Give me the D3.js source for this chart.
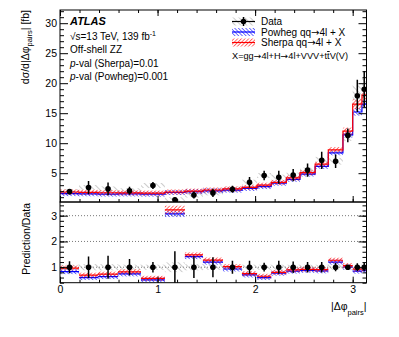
<!DOCTYPE html>
<html>
<head>
<meta charset="utf-8">
<script src="https://cdn.jsdelivr.net/npm/d3@7"></script>
<style>
  body { margin: 0; background: #fff; }
  text { font-family: "Liberation Sans", Arial, sans-serif; fill: #000; }
  .arr { font-family: "DejaVu Sans", sans-serif; }
</style>
</head>
<body>
<svg id="chart" width="399" height="337"></svg>
<script>
// bin edges in |dphi_pairs|
const binEdges = [0, 0.195, 0.39, 0.595, 0.83, 1.075, 1.28, 1.465, 1.67, 1.865, 2.02,
                  2.165, 2.32, 2.46, 2.615, 2.75, 2.9, 3.0, 3.095, Math.PI];
// measured cross-section [fb]
const dataValues = [1.93, 2.62, 2.38, 2.08, 2.95, 0.58, 1.36, 1.72, 2.33, 3.5,
                    4.62, 4.33, 4.68, 5.52, 7.15, 7.0, 11.3, 17.9, 19.0];
// relative total uncertainty (error bars)
const dataErr = [0.23, 0.42, 0.45, 0.32, 0.2, 0.62, 0.42, 0.39, 0.25, 0.25,
                 0.17, 0.25, 0.22, 0.2, 0.2, 0.16, 0.1, 0.15, 0.16];
// relative systematic uncertainty (grey hatched band)
const dataSyst = [0.1, 0.12, 0.12, 0.1, 0.1, 0.19, 0.12, 0.1, 0.1, 0.1,
                  0.08, 0.1, 0.08, 0.08, 0.08, 0.08, 0.08, 0.1, 0.1];
const sherpaValues = [1.87, 1.81, 1.74, 1.71, 1.68, 1.87, 2.01, 2.20, 2.38, 2.63,
                      3.0, 3.46, 4.21, 5.08, 6.5, 8.9, 12.0, 16.5, 18.0];
const powhegValues = [1.60, 1.57, 1.52, 1.54, 1.50, 1.78, 1.92, 2.06, 2.17, 2.45,
                      2.77, 3.33, 3.98, 4.86, 6.15, 8.4, 11.4, 15.2, 16.5];
const sherpaUnc = 0.05;
const powhegUnc = 0.04;

const xMajor = [0, 1, 2, 3];
const yTopMajor = [5, 10, 15, 20, 25, 30];
const yRatioMajor = [1, 2, 3];

const svg = d3.select('#chart');
const left = 60, right = 366.5;
const topY0 = 10, topY1 = 202, ratY1 = 282.7;
const minBand = 2.5; // smallest half-height of a hatched band, px

const x = d3.scaleLinear().domain([0, Math.PI]).range([left, right]);
const yTop = d3.scaleLinear().domain([0.2, 32.2]).range([topY1, topY0]);
const yRat = d3.scaleLinear().domain([0.4, 3.53]).range([ratY1, topY1]);

// hatch patterns
const defs = svg.append('defs');
function hatch(id, color, angle, gap, width) {
  const p = defs.append('pattern').attr('id', id)
    .attr('patternUnits', 'userSpaceOnUse')
    .attr('width', gap).attr('height', gap)
    .attr('patternTransform', `rotate(${angle})`);
  p.append('line').attr('x1', 0).attr('y1', 0).attr('x2', 0).attr('y2', gap)
    .attr('stroke', color).attr('stroke-width', width);
}
hatch('hGrey', '#999', -45, 4, 1);
hatch('hRed', '#ff0000', 45, 2.6, 1.1);
hatch('hBlue', '#0000ff', -45, 2.6, 1.1);

const bins = dataValues.map((d, i) => ({
  x0: binEdges[i], x1: binEdges[i + 1], xc: (binEdges[i] + binEdges[i + 1]) / 2,
  data: d, err: dataErr[i], syst: dataSyst[i],
  sherpa: sherpaValues[i], powheg: powhegValues[i]
}));

// band rectangle between scale(v*(1-u)) and scale(v*(1+u)), at least minBand each side
function band(sel, scale, val, unc) {
  sel.attr('y', d => Math.min(scale(val(d) * (1 + unc(d))), scale(val(d)) - minBand))
    .attr('height', d => {
      const h = scale(val(d) * (1 - unc(d))) - scale(val(d) * (1 + unc(d)));
      return Math.max(h, 2 * minBand);
    });
}

// clip paths
defs.append('clipPath').attr('id', 'clipTop').append('rect')
  .attr('x', left).attr('y', topY0).attr('width', right - left).attr('height', topY1 - topY0);
defs.append('clipPath').attr('id', 'clipRat').append('rect')
  .attr('x', left).attr('y', topY1).attr('width', right - left).attr('height', ratY1 - topY1);

// ---------- top panel ----------
const gTop = svg.append('g').attr('clip-path', 'url(#clipTop)');

gTop.selectAll('rect.syst').data(bins).join('rect')
  .attr('x', d => x(d.x0)).attr('width', d => x(d.x1) - x(d.x0))
  .call(band, yTop, d => d.data, d => d.syst)
  .attr('fill', 'url(#hGrey)');

function drawPred(g, key, unc, pat, color) {
  g.selectAll('rect.' + key).data(bins).join('rect').attr('class', key)
    .attr('x', d => x(d.x0)).attr('width', d => x(d.x1) - x(d.x0))
    .call(band, yTop, d => d[key], () => unc)
    .attr('fill', `url(#${pat})`);
  const pts = [];
  bins.forEach(d => { pts.push([d.x0, d[key]]); pts.push([d.x1, d[key]]); });
  g.append('path').datum(pts)
    .attr('d', d3.line().x(p => x(p[0])).y(p => yTop(p[1])))
    .attr('fill', 'none').attr('stroke', color).attr('stroke-width', 1.2);
}
drawPred(gTop, 'powheg', powhegUnc, 'hBlue', '#0000ff');
drawPred(gTop, 'sherpa', sherpaUnc, 'hRed', '#ff0000');

gTop.selectAll('line.err').data(bins).join('line')
  .attr('x1', d => x(d.xc)).attr('x2', d => x(d.xc))
  .attr('y1', d => yTop(d.data * (1 + d.err))).attr('y2', d => yTop(d.data * (1 - d.err)))
  .attr('stroke', '#000').attr('stroke-width', 1.5);
gTop.selectAll('circle').data(bins).join('circle')
  .attr('cx', d => x(d.xc)).attr('cy', d => yTop(d.data)).attr('r', 2.8).attr('fill', '#000');

// ---------- ratio panel ----------
const gRat = svg.append('g').attr('clip-path', 'url(#clipRat)');

gRat.selectAll('line.grid').data(yRatioMajor).join('line')
  .attr('x1', left).attr('x2', right)
  .attr('y1', d => yRat(d)).attr('y2', d => yRat(d))
  .attr('stroke', '#555').attr('stroke-width', 0.8).attr('stroke-dasharray', '1,2');

gRat.selectAll('rect.syst').data(bins).join('rect')
  .attr('x', d => x(d.x0)).attr('width', d => x(d.x1) - x(d.x0))
  .call(band, yRat, () => 1, d => d.syst)
  .attr('fill', 'url(#hGrey)');

function drawRatio(g, key, unc, pat, color) {
  g.selectAll('rect.' + key).data(bins).join('rect').attr('class', key)
    .attr('x', d => x(d.x0)).attr('width', d => x(d.x1) - x(d.x0))
    .call(band, yRat, d => d[key] / d.data, () => unc)
    .attr('fill', `url(#${pat})`);
  g.selectAll('line.' + key).data(bins).join('line').attr('class', key)
    .attr('x1', d => x(d.x0)).attr('x2', d => x(d.x1))
    .attr('y1', d => yRat(d[key] / d.data)).attr('y2', d => yRat(d[key] / d.data))
    .attr('stroke', color).attr('stroke-width', 1.2);
}
drawRatio(gRat, 'powheg', powhegUnc, 'hBlue', '#0000ff');
drawRatio(gRat, 'sherpa', sherpaUnc, 'hRed', '#ff0000');

gRat.selectAll('line.err').data(bins).join('line')
  .attr('x1', d => x(d.xc)).attr('x2', d => x(d.xc))
  .attr('y1', d => yRat(1 + d.err)).attr('y2', d => yRat(1 - d.err))
  .attr('stroke', '#000').attr('stroke-width', 1.5);
gRat.selectAll('circle').data(bins).join('circle')
  .attr('cx', d => x(d.xc)).attr('cy', yRat(1)).attr('r', 2.8).attr('fill', '#000');

// ---------- axes ----------
const xMinor = d3.range(0, 3.15, 0.2);
const topMinor = d3.range(1, 33, 1).filter(v => v % 5 !== 0);
const ratMinor = d3.range(0.4, 3.55, 0.2);

function axis(gen, tx, ty, values, size, labels) {
  const a = gen.tickValues(values).tickSize(size).tickPadding(labels ? 3 : 0)
    .tickFormat(labels ? d3.format('d') : '');
  const g = svg.append('g').attr('transform', `translate(${tx},${ty})`).call(a);
  g.select('.domain').remove();
  g.selectAll('text').attr('font-size', 10.5).attr('font-family', '"Liberation Sans", Arial, sans-serif');
  return g;
}
// top panel
axis(d3.axisLeft(yTop), left, 0, yTopMajor, -8, true);
axis(d3.axisLeft(yTop), left, 0, topMinor, -4, false);
axis(d3.axisRight(yTop), right, 0, yTopMajor, -8, false);
axis(d3.axisRight(yTop), right, 0, topMinor, -4, false);
axis(d3.axisBottom(x), 0, topY1, xMajor, -6, false);
axis(d3.axisBottom(x), 0, topY1, xMinor, -3, false);
axis(d3.axisTop(x), 0, topY0, xMajor, -6, false);
axis(d3.axisTop(x), 0, topY0, xMinor, -3, false);
// ratio panel
axis(d3.axisLeft(yRat), left, 0, yRatioMajor, -8, true);
axis(d3.axisLeft(yRat), left, 0, ratMinor, -4, false);
axis(d3.axisRight(yRat), right, 0, yRatioMajor, -8, false);
axis(d3.axisRight(yRat), right, 0, ratMinor, -4, false);
axis(d3.axisBottom(x), 0, ratY1, xMajor, -6, true);
axis(d3.axisBottom(x), 0, ratY1, xMinor, -3, false);

// frames
svg.append('rect').attr('x', left).attr('y', topY0).attr('width', right - left)
  .attr('height', topY1 - topY0).attr('fill', 'none').attr('stroke', '#000');
svg.append('rect').attr('x', left).attr('y', topY1).attr('width', right - left)
  .attr('height', ratY1 - topY1).attr('fill', 'none').attr('stroke', '#000');

// axis titles
const yt = svg.append('text').attr('transform', 'translate(28.5,10) rotate(-90)')
  .attr('text-anchor', 'end').attr('font-size', 10.5);
yt.append('tspan').text('dσ/d|Δφ');
yt.append('tspan').attr('font-size', 7.5).attr('dy', 3).text('pairs');
yt.append('tspan').attr('dy', -3).text('| [fb]');

svg.append('text').attr('transform', 'translate(30,203) rotate(-90)')
  .attr('text-anchor', 'end').attr('font-size', 10.5).text('Prediction/Data');

const xt = svg.append('text').attr('x', 366.5).attr('y', 310)
  .attr('text-anchor', 'end').attr('font-size', 10.5);
xt.append('tspan').text('|Δφ');
xt.append('tspan').attr('font-size', 7.5).attr('dy', 5).text('pairs');
xt.append('tspan').attr('dy', -5).text('|');

// ATLAS label block
svg.append('text').attr('x', 70).attr('y', 25).attr('font-size', 11)
  .attr('font-weight', 'bold').attr('font-style', 'italic').text('ATLAS');
const lum = svg.append('text').attr('x', 70).attr('y', 39.5).attr('font-size', 10);
lum.append('tspan').text('√s=13 TeV, 139 fb');
lum.append('tspan').attr('font-size', 7).attr('dy', -4).text('-1');
svg.append('text').attr('x', 70).attr('y', 53).attr('font-size', 10).text('Off-shell ZZ');
[['(Sherpa)=0.01', 66.5], ['(Powheg)=0.001', 80]].forEach(([t, yy]) => {
  const tx = svg.append('text').attr('x', 70).attr('y', yy).attr('font-size', 10);
  tx.append('tspan').attr('font-style', 'italic').text('p');
  tx.append('tspan').text('-val ' + t);
});

// legend
const lx0 = 232, lx1 = 255;
function legBox(yc, pat, color) {
  svg.append('rect').attr('x', lx0).attr('y', yc - 4).attr('width', lx1 - lx0).attr('height', 8)
    .attr('fill', `url(#${pat})`);
  svg.append('line').attr('x1', lx0).attr('x2', lx1).attr('y1', yc).attr('y2', yc)
    .attr('stroke', color).attr('stroke-width', 1.2);
}
legBox(21.5, 'hGrey', '#000');
svg.append('line').attr('x1', (lx0 + lx1) / 2).attr('x2', (lx0 + lx1) / 2)
  .attr('y1', 17).attr('y2', 26).attr('stroke', '#000').attr('stroke-width', 1.5);
svg.append('circle').attr('cx', (lx0 + lx1) / 2).attr('cy', 21.5).attr('r', 2.8).attr('fill', '#000');
legBox(32, 'hBlue', '#0000ff');
legBox(42.5, 'hRed', '#ff0000');

// text with wide arrow glyphs
function richText(xx, yy, size, parts) {
  const t = svg.append('text').attr('x', xx).attr('y', yy).attr('font-size', size);
  parts.forEach(p => {
    const s = t.append('tspan').text(p.replace(/[\^~]/g, ''));
    if (p === '→') s.attr('class', 'arr');
    if (p.startsWith('~')) s.attr('text-decoration', 'overline');
  });
}
svg.append('text').attr('x', 261).attr('y', 25).attr('font-size', 10).text('Data');
richText(261, 35.5, 10, ['Powheg qq', '→', '4l + X']);
richText(261, 46, 10, ['Sherpa qq', '→', '4l + X']);
richText(232, 59, 9.2, ['X=gg', '→', '4l+H', '→', '4l+VVV+t', '~t', 'V(V)']);
</script>
</body>
</html>
